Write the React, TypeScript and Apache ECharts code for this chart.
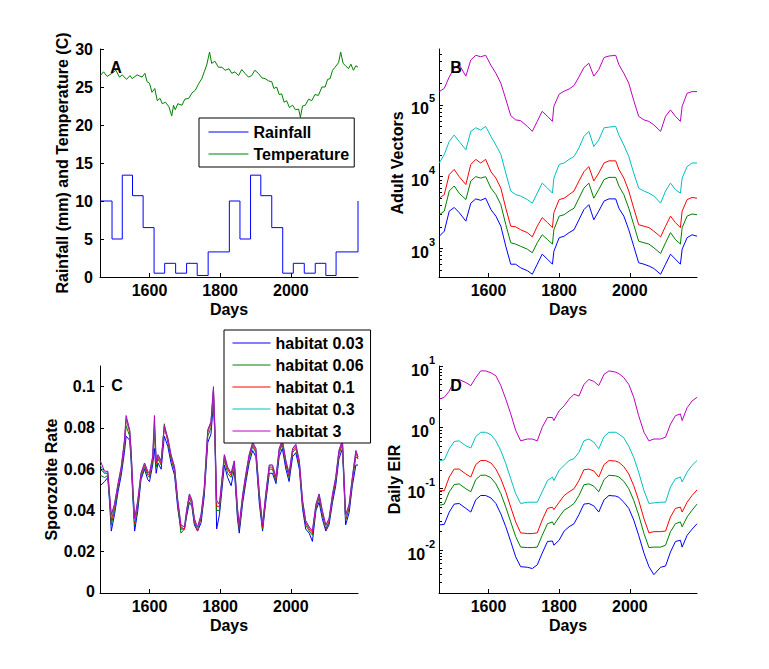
import React, { useEffect, useRef } from "react";
import * as echarts from "echarts";

const FONT = '"Liberation Sans", Arial, Helvetica, sans-serif';

// ---------- shared x axis ----------
const dayMin = 1460;
const dayMax = 2190;
const dayTicks = [1600, 1800, 2000];

// ---------- Panel A ----------
const rainDays = [1460, 1494, 1523, 1552, 1582, 1613, 1643, 1674, 1705, 1735, 1766, 1796, 1826, 1856, 1886, 1915, 1946, 1977, 2007, 2038, 2069, 2099, 2128, 2159, 2190];
const rainfall = [10, 5, 13.4, 10.7, 6.5, 0.5, 1.8, 0.5, 1.8, 0.2, 3.3, 3.3, 10, 5, 13.4, 10.7, 6.5, 0.5, 1.8, 0.5, 1.8, 0.2, 3.3, 3.3, 10];
const tempDays = [1461, 1470, 1480, 1494, 1505, 1515, 1523, 1535, 1545, 1551, 1565, 1579, 1587, 1593, 1600, 1607, 1615, 1622, 1630, 1636, 1645, 1655, 1663, 1668, 1673, 1680, 1692, 1700, 1711, 1720, 1730, 1740, 1748, 1755, 1762, 1770, 1776, 1785, 1795, 1805, 1814, 1825, 1833, 1842, 1852, 1861, 1870, 1880, 1889, 1898, 1908, 1918, 1927, 1937, 1946, 1952, 1960, 1967, 1974, 1981, 1988, 1996, 2005, 2013, 2022, 2027, 2033, 2041, 2050, 2059, 2068, 2078, 2088, 2097, 2104, 2111, 2118, 2125, 2135, 2141, 2148, 2155, 2163, 2170, 2177, 2184, 2190];
const temperature = [26.5, 27.0, 26.4, 26.8, 27.2, 26.3, 26.6, 26.0, 26.5, 26.1, 26.6, 26.3, 26.8, 25.7, 25.5, 24.3, 24.8, 23.2, 23.5, 22.8, 23.0, 22.4, 21.2, 22.6, 22.0, 22.8, 22.6, 23.4, 23.5, 24.2, 24.6, 25.5, 26.1, 27.0, 27.9, 29.6, 28.1, 28.4, 27.6, 27.6, 27.2, 27.4, 26.8, 27.0, 26.5, 27.3, 26.8, 26.3, 26.5, 27.2, 26.8, 26.2, 26.1, 25.8, 25.7, 24.8, 25.0, 24.0, 24.1, 23.0, 23.2, 22.3, 22.6, 22.0, 22.1, 21.0, 22.5, 22.6, 23.4, 23.2, 24.0, 23.9, 25.0, 25.0, 26.0, 26.1, 27.2, 27.6, 28.2, 29.6, 28.1, 27.8, 27.4, 28.0, 27.2, 27.8, 27.6];
const aTicks = [0, 5, 10, 15, 20, 25, 30];

// ---------- Panels B & D (shared sampling days) ----------
const seasonDays = [1461, 1475, 1489, 1503, 1517, 1536, 1550, 1564, 1578, 1592, 1607, 1621, 1635, 1649, 1663, 1677, 1691, 1710, 1724, 1738, 1752, 1767, 1781, 1785, 1800, 1814, 1828, 1842, 1856, 1870, 1884, 1898, 1912, 1927, 1941, 1960, 1969, 1983, 1997, 2011, 2025, 2040, 2054, 2068, 2087, 2101, 2115, 2129, 2143, 2148, 2162, 2176, 2190];

const vectors003 = [1480, 1740, 3310, 3720, 3160, 2400, 4270, 4900, 4680, 5010, 3470, 2820, 2040, 1070, 603, 603, 537, 490, 437, 603, 832, 708, 603, 912, 1410, 1480, 1660, 1820, 2510, 3470, 4070, 2510, 3310, 4570, 4900, 4900, 3630, 2820, 1820, 1070, 631, 603, 569, 525, 437, 603, 832, 708, 603, 977, 1410, 1550, 1480];
const vectors006 = [2950, 3310, 6310, 7410, 5890, 4790, 8710, 10000, 9550, 10000, 6920, 5620, 4070, 2140, 1200, 1150, 1070, 977, 871, 1200, 1550, 1330, 1150, 1820, 2820, 2950, 3310, 3630, 5010, 6920, 8130, 5010, 6610, 9120, 9770, 9770, 7410, 5620, 3630, 2140, 1260, 1200, 1150, 1020, 851, 1200, 1660, 1330, 1150, 1950, 2820, 3020, 2950];
const vectors01 = [5010, 5620, 10700, 12600, 10000, 7760, 14800, 17400, 15500, 17400, 11700, 9550, 6920, 3630, 2040, 2000, 1820, 1660, 1450, 2040, 2690, 2290, 1950, 3160, 4790, 5010, 5620, 6310, 8710, 11700, 13800, 8710, 11200, 15500, 16600, 16600, 12600, 9550, 6310, 3630, 2140, 2040, 1950, 1740, 1450, 2040, 2820, 2290, 1950, 3310, 4790, 5130, 5010];
const vectors03 = [15500, 20400, 30900, 38000, 30900, 23700, 42700, 47900, 44700, 50100, 36300, 27500, 20400, 11200, 6310, 5620, 5370, 4790, 4270, 5890, 8130, 6920, 5890, 9550, 14800, 15500, 17400, 19100, 25100, 36300, 42700, 26300, 32400, 47900, 49000, 50100, 38000, 27500, 19100, 11200, 6920, 6310, 5890, 5370, 4270, 6310, 8130, 6610, 5890, 9550, 13800, 15500, 15500];
const vectors3 = [153000, 170000, 245000, 324000, 363000, 251000, 422000, 490000, 468000, 490000, 355000, 275000, 200000, 120000, 70800, 61700, 60300, 50100, 42700, 58900, 81300, 69200, 58900, 95500, 141000, 155000, 166000, 186000, 245000, 331000, 380000, 251000, 309000, 457000, 479000, 490000, 363000, 275000, 200000, 115000, 69200, 61700, 58900, 52500, 42700, 69200, 85100, 69200, 58900, 95500, 145000, 153000, 153000];
const bTicks = [1000, 10000, 100000];

const eir003 = [0.0257, 0.0263, 0.0417, 0.0562, 0.0575, 0.0479, 0.0417, 0.0661, 0.0776, 0.0776, 0.0708, 0.0575, 0.0389, 0.024, 0.0138, 0.00776, 0.00537, 0.00525, 0.00501, 0.00575, 0.00891, 0.0138, 0.0141, 0.012, 0.0145, 0.0204, 0.024, 0.0269, 0.038, 0.0562, 0.0575, 0.0525, 0.0417, 0.0661, 0.0776, 0.0759, 0.0724, 0.0603, 0.0479, 0.0309, 0.0174, 0.00891, 0.00537, 0.00398, 0.00525, 0.0055, 0.00933, 0.0138, 0.0145, 0.0112, 0.0174, 0.0219, 0.0269];
const eir006 = [0.0537, 0.0562, 0.0891, 0.117, 0.12, 0.1, 0.0891, 0.141, 0.166, 0.166, 0.151, 0.12, 0.0832, 0.0501, 0.0288, 0.0166, 0.0112, 0.011, 0.011, 0.0112, 0.0174, 0.0269, 0.0288, 0.0257, 0.0347, 0.0447, 0.0501, 0.0575, 0.0776, 0.116, 0.12, 0.11, 0.0891, 0.141, 0.166, 0.162, 0.155, 0.132, 0.1, 0.0646, 0.0372, 0.0186, 0.011, 0.0112, 0.0112, 0.012, 0.02, 0.0269, 0.0288, 0.024, 0.0347, 0.0447, 0.0562];
const eir01 = [0.093, 0.093, 0.155, 0.209, 0.209, 0.174, 0.155, 0.248, 0.288, 0.288, 0.263, 0.209, 0.145, 0.089, 0.05, 0.0288, 0.0191, 0.0186, 0.0186, 0.0191, 0.0309, 0.0479, 0.0501, 0.0457, 0.0603, 0.0776, 0.089, 0.1, 0.136, 0.204, 0.209, 0.195, 0.155, 0.248, 0.288, 0.282, 0.269, 0.229, 0.174, 0.112, 0.0646, 0.0324, 0.0191, 0.02, 0.02, 0.0204, 0.0347, 0.0479, 0.0501, 0.0417, 0.0603, 0.0776, 0.0955];
const eir03 = [0.288, 0.295, 0.447, 0.589, 0.603, 0.501, 0.462, 0.708, 0.832, 0.832, 0.759, 0.603, 0.417, 0.257, 0.145, 0.0832, 0.0575, 0.0603, 0.0603, 0.0603, 0.0891, 0.136, 0.155, 0.136, 0.2, 0.24, 0.288, 0.309, 0.394, 0.603, 0.646, 0.575, 0.447, 0.708, 0.832, 0.832, 0.776, 0.676, 0.49, 0.324, 0.186, 0.0933, 0.0575, 0.0589, 0.0603, 0.0603, 0.107, 0.145, 0.155, 0.129, 0.186, 0.24, 0.288];
const eir3 = [2.88, 3.09, 3.89, 5.75, 6.03, 5.37, 4.79, 6.46, 8.32, 8.32, 7.76, 6.92, 4.79, 2.88, 1.66, 0.891, 0.603, 0.646, 0.646, 0.603, 1.0, 1.45, 1.45, 1.29, 1.86, 2.24, 2.88, 3.47, 3.24, 5.01, 6.03, 5.62, 4.79, 7.33, 8.32, 7.94, 7.5, 6.46, 5.01, 3.09, 1.55, 0.832, 0.603, 0.646, 0.646, 0.692, 1.13, 1.55, 1.66, 1.29, 2.09, 2.69, 3.09];
const dTicks = [0.01, 0.1, 1, 10];

// ---------- Panel C ----------
const sporoDays = [1461, 1473, 1482, 1487, 1492, 1501, 1511, 1520, 1529, 1534, 1544, 1548, 1553, 1558, 1567, 1576, 1586, 1595, 1600, 1609, 1614, 1619, 1624, 1633, 1642, 1652, 1661, 1671, 1680, 1689, 1699, 1705, 1713, 1720, 1727, 1736, 1746, 1755, 1765, 1774, 1781, 1785, 1790, 1798, 1812, 1821, 1831, 1840, 1849, 1854, 1864, 1873, 1882, 1892, 1901, 1911, 1920, 1929, 1939, 1948, 1958, 1967, 1976, 1986, 1995, 2005, 2014, 2024, 2033, 2042, 2052, 2061, 2071, 2080, 2089, 2099, 2108, 2118, 2127, 2136, 2146, 2155, 2165, 2174, 2184, 2190];
const sporo003 = [0.052, 0.054, 0.056, 0.044, 0.030, 0.038, 0.049, 0.057, 0.068, 0.076, 0.074, 0.064, 0.046, 0.030, 0.040, 0.055, 0.060, 0.055, 0.054, 0.062, 0.070, 0.058, 0.063, 0.060, 0.076, 0.071, 0.063, 0.057, 0.041, 0.031, 0.031, 0.037, 0.044, 0.042, 0.033, 0.030, 0.034, 0.047, 0.073, 0.077, 0.092, 0.076, 0.031, 0.038, 0.062, 0.056, 0.052, 0.060, 0.036, 0.029, 0.044, 0.054, 0.063, 0.069, 0.066, 0.043, 0.030, 0.044, 0.058, 0.058, 0.053, 0.066, 0.070, 0.060, 0.054, 0.066, 0.068, 0.060, 0.041, 0.031, 0.029, 0.025, 0.040, 0.044, 0.036, 0.030, 0.033, 0.044, 0.052, 0.065, 0.070, 0.033, 0.039, 0.052, 0.062, 0.062];
const sporo006 = [0.057, 0.056, 0.057, 0.046, 0.033, 0.040, 0.051, 0.059, 0.071, 0.081, 0.076, 0.066, 0.048, 0.033, 0.042, 0.056, 0.061, 0.057, 0.056, 0.064, 0.078, 0.061, 0.065, 0.062, 0.082, 0.073, 0.065, 0.059, 0.043, 0.029, 0.031, 0.038, 0.046, 0.043, 0.034, 0.031, 0.036, 0.049, 0.076, 0.080, 0.096, 0.078, 0.040, 0.040, 0.065, 0.058, 0.056, 0.062, 0.038, 0.031, 0.046, 0.056, 0.065, 0.071, 0.068, 0.045, 0.031, 0.046, 0.060, 0.060, 0.054, 0.068, 0.072, 0.062, 0.056, 0.068, 0.070, 0.062, 0.043, 0.033, 0.030, 0.028, 0.041, 0.046, 0.038, 0.031, 0.034, 0.046, 0.054, 0.067, 0.072, 0.035, 0.041, 0.054, 0.066, 0.065];
const sporo01 = [0.060, 0.058, 0.058, 0.047, 0.035, 0.042, 0.052, 0.060, 0.072, 0.084, 0.078, 0.068, 0.050, 0.034, 0.044, 0.057, 0.062, 0.058, 0.057, 0.065, 0.080, 0.063, 0.066, 0.063, 0.080, 0.074, 0.066, 0.060, 0.044, 0.032, 0.031, 0.039, 0.047, 0.044, 0.035, 0.030, 0.037, 0.050, 0.078, 0.082, 0.098, 0.079, 0.042, 0.042, 0.066, 0.060, 0.057, 0.063, 0.040, 0.032, 0.047, 0.057, 0.066, 0.072, 0.069, 0.047, 0.032, 0.047, 0.061, 0.061, 0.055, 0.069, 0.073, 0.063, 0.057, 0.069, 0.071, 0.063, 0.044, 0.034, 0.031, 0.029, 0.042, 0.047, 0.039, 0.031, 0.035, 0.047, 0.055, 0.068, 0.073, 0.036, 0.042, 0.055, 0.068, 0.065];
const sporo03 = [0.062, 0.058, 0.059, 0.048, 0.037, 0.043, 0.053, 0.061, 0.073, 0.085, 0.079, 0.069, 0.051, 0.035, 0.045, 0.058, 0.063, 0.059, 0.058, 0.066, 0.083, 0.064, 0.067, 0.064, 0.081, 0.075, 0.067, 0.061, 0.045, 0.033, 0.032, 0.040, 0.048, 0.045, 0.036, 0.031, 0.038, 0.051, 0.079, 0.083, 0.099, 0.080, 0.044, 0.043, 0.067, 0.061, 0.058, 0.064, 0.041, 0.033, 0.048, 0.058, 0.067, 0.073, 0.070, 0.048, 0.033, 0.048, 0.062, 0.062, 0.056, 0.070, 0.074, 0.064, 0.058, 0.070, 0.072, 0.064, 0.045, 0.035, 0.032, 0.030, 0.043, 0.048, 0.040, 0.032, 0.036, 0.048, 0.056, 0.069, 0.074, 0.037, 0.043, 0.056, 0.069, 0.066];
const sporo3 = [0.064, 0.059, 0.059, 0.048, 0.038, 0.043, 0.053, 0.061, 0.074, 0.086, 0.079, 0.069, 0.051, 0.036, 0.045, 0.058, 0.063, 0.059, 0.058, 0.066, 0.086, 0.064, 0.067, 0.064, 0.081, 0.075, 0.067, 0.061, 0.045, 0.033, 0.032, 0.040, 0.048, 0.045, 0.036, 0.032, 0.038, 0.051, 0.079, 0.083, 0.100, 0.080, 0.045, 0.043, 0.067, 0.061, 0.058, 0.064, 0.041, 0.033, 0.048, 0.058, 0.067, 0.073, 0.070, 0.048, 0.033, 0.048, 0.062, 0.062, 0.056, 0.070, 0.074, 0.064, 0.058, 0.070, 0.072, 0.064, 0.045, 0.035, 0.032, 0.030, 0.043, 0.048, 0.040, 0.033, 0.036, 0.048, 0.056, 0.069, 0.074, 0.038, 0.043, 0.056, 0.069, 0.066];
const cTicks = [0, 0.02, 0.04, 0.06, 0.08, 0.1];

const habitatNames = ["habitat 0.03", "habitat 0.06", "habitat 0.1", "habitat 0.3", "habitat 3"];
const habitatColors = ["#0000FF", "#008000", "#FF0000", "#00BFBF", "#BF00BF"];

// minor tick positions for log axes (2..9 x each decade)
const minorLog = (fromExp: number, toExp: number, lo: number, hi: number) => {
  const out: number[] = [];
  for (let e = fromExp; e <= toExp; e++) {
    for (let m = 2; m <= 9; m++) {
      const v = m * Math.pow(10, e);
      if (v > lo && v < hi) out.push(Number(v.toPrecision(6)));
    }
  }
  return out;
};

const txt = { fontFamily: FONT, fontSize: 16, fontWeight: "bold" as const, color: "#000" };
const pairs = (xs: number[], ys: number[]) => xs.map((x, i) => [x, ys[i]]);
const plain = (v: number) => String(v);

const logRich = {
  b: { fontFamily: FONT, fontSize: 16, fontWeight: "bold", color: "#000", lineHeight: 24, verticalAlign: "bottom" },
  s: { fontFamily: FONT, fontSize: 11, fontWeight: "bold", color: "#000", lineHeight: 10, verticalAlign: "top" },
};
const logFormatter = (v: number) => `{b|10}{s|${Math.round(Math.log10(v))}}`;

function xAxisFor(gridIndex: number) {
  return {
    type: "value",
    gridIndex,
    min: dayMin,
    max: dayMax,
    name: "Days",
    nameLocation: "middle",
    nameGap: 24,
    nameTextStyle: txt,
    axisLine: { show: true, onZero: false, lineStyle: { color: "#000", width: 1 } },
    axisTick: { show: true, inside: true, length: 4, customValues: dayTicks, lineStyle: { color: "#000" } },
    axisLabel: { ...txt, margin: 5, customValues: dayTicks, formatter: plain },
    splitLine: { show: false },
  };
}

function yBase(gridIndex: number, name: string, nameGap: number) {
  return {
    gridIndex,
    position: "left",
    name,
    nameLocation: "middle",
    nameGap,
    nameTextStyle: txt,
    axisLine: { show: true, onZero: false, lineStyle: { color: "#000", width: 1 } },
    splitLine: { show: false },
  };
}

function minorY(gridIndex: number, min: number, max: number, ticks: number[]) {
  return {
    type: "log",
    logBase: 10,
    gridIndex,
    position: "left",
    offset: 0,
    min,
    max,
    axisLine: { show: false, onZero: false },
    axisTick: { show: true, inside: true, length: 3, customValues: ticks, lineStyle: { color: "#000" } },
    axisLabel: { show: false },
    splitLine: { show: false },
  };
}

function line(name: string, color: string, xi: number, yi: number, data: number[][], extra: any = {}) {
  return {
    type: "line",
    name,
    xAxisIndex: xi,
    yAxisIndex: yi,
    data,
    symbol: "none",
    showSymbol: false,
    lineStyle: { color, width: 1 },
    itemStyle: { color },
    clip: true,
    silent: true,
    emphasis: { disabled: true },
    ...extra,
  };
}

const legendBase = {
  orient: "vertical",
  itemHeight: 16,
  itemGap: 6,
  backgroundColor: "#fff",
  borderColor: "#000",
  borderWidth: 1,
  borderRadius: 0,
  selectedMode: false,
  itemStyle: { opacity: 0 },
  lineStyle: { width: 1 },
  textStyle: { ...txt, lineHeight: 16 },
};

const textEl = (text: string, x: number, y: number, align: string) => ({
  type: "text",
  x,
  y,
  z: 100,
  zlevel: 1,
  silent: true,
  style: { text, fontFamily: FONT, fontSize: 16, fontWeight: "bold", fill: "#000", textAlign: align, textVerticalAlign: "middle" },
});

export default function App() {
  const ref = useRef<HTMLDivElement>(null);
  useEffect(() => {
    if (!ref.current) return;
    const chart = echarts.init(ref.current, null, { renderer: "svg" });
    const bVals = [vectors003, vectors006, vectors01, vectors03, vectors3];
    const cVals = [sporo003, sporo006, sporo01, sporo03, sporo3];
    const dVals = [eir003, eir006, eir01, eir03, eir3];
    const series: any[] = [
      line("Rainfall", "#0000FF", 0, 0, pairs(rainDays, rainfall), { step: "end" }),
      line("Temperature", "#008000", 0, 0, pairs(tempDays, temperature)),
    ];
    habitatNames.forEach((n, i) => series.push(line(n, habitatColors[i], 1, 1, pairs(seasonDays, bVals[i]))));
    habitatNames.forEach((n, i) => series.push(line(n, habitatColors[i], 2, 3, pairs(sporoDays, cVals[i]))));
    habitatNames.forEach((n, i) => series.push(line(n, habitatColors[i], 3, 4, pairs(seasonDays, dVals[i]))));

    const yA = {
      ...yBase(0, "Rainfall (mm) and Temperature (C)", 30),
      type: "value",
      min: 0,
      max: 30,
      axisTick: { show: true, inside: true, length: 4, customValues: aTicks, lineStyle: { color: "#000" } },
      axisLabel: { ...txt, margin: 7, customValues: aTicks, formatter: plain },
    };
    const yB = {
      ...yBase(1, "Adult Vectors", 34),
      type: "log",
      logBase: 10,
      min: 400,
      max: 600000,
      axisTick: { show: true, inside: true, length: 4, customValues: bTicks, lineStyle: { color: "#000" } },
      axisLabel: { margin: 4, customValues: bTicks, formatter: logFormatter, rich: logRich },
    };
    const yC = {
      ...yBase(2, "Sporozoite Rate", 41),
      type: "value",
      min: 0,
      max: 0.11,
      axisTick: { show: true, inside: true, length: 4, customValues: cTicks, lineStyle: { color: "#000" } },
      axisLabel: {
        ...txt,
        margin: 5,
        customValues: cTicks.slice(1),
        formatter: (v: number) => String(parseFloat(v.toFixed(3))),
      },
    };
    const yD = {
      ...yBase(3, "Daily EIR", 37),
      type: "log",
      logBase: 10,
      min: 0.002,
      max: 10,
      axisTick: { show: true, inside: true, length: 4, customValues: dTicks, lineStyle: { color: "#000" } },
      axisLabel: { margin: 4, customValues: dTicks, formatter: logFormatter, rich: logRich },
    };

    const option: any = {
      animation: false,
      backgroundColor: "#fff",
      textStyle: { fontFamily: FONT },
      grid: [
        { left: 100, top: 49, width: 258, height: 228 },
        { left: 439, top: 49, width: 258, height: 228 },
        { left: 100, top: 366, width: 258, height: 227 },
        { left: 439, top: 366, width: 258, height: 227 },
      ],
      xAxis: [xAxisFor(0), xAxisFor(1), xAxisFor(2), xAxisFor(3)],
      yAxis: [
        yA,
        yB,
        minorY(1, 400, 600000, minorLog(2, 5, 400, 600000)),
        yC,
        yD,
        minorY(3, 0.002, 10, minorLog(-3, 0, 0.002, 10)),
      ],
      legend: [
        { ...legendBase, data: ["Rainfall", "Temperature"], left: 199, top: 118, itemWidth: 40, padding: [6, 5, 5, 9] },
        { ...legendBase, data: habitatNames, left: 224, top: 330, itemWidth: 38, padding: [5, 7, 4, 8] },
      ],
      graphic: {
        elements: [
          textEl("A", 116, 67, "center"),
          textEl("B", 456, 67, "center"),
          textEl("C", 117, 385, "center"),
          textEl("D", 456, 385, "center"),
          textEl("0", 95, 591, "right"),
        ],
      },
      series,
    };
    chart.setOption(option);
    return () => chart.dispose();
  }, []);
  return (
    <div
      ref={ref}
      style={{ position: "fixed", left: 0, top: 0, width: 769, height: 669, background: "#fff" }}
    />
  );
}
